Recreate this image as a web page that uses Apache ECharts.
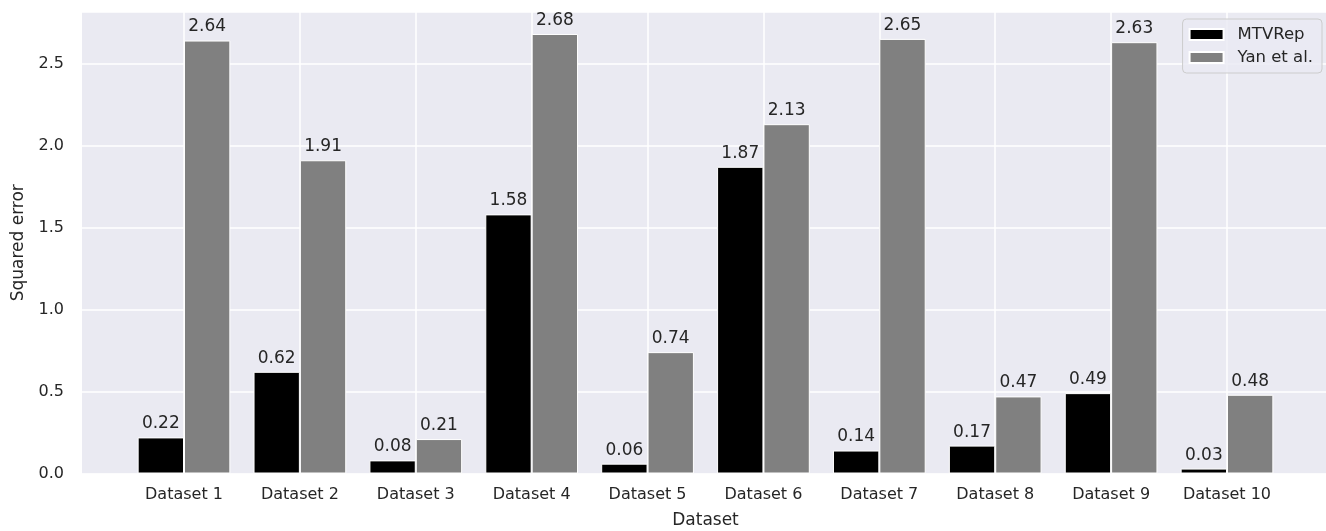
<!DOCTYPE html>
<html>
<head>
<meta charset="utf-8">
<script src="https://cdn.jsdelivr.net/npm/echarts@6/dist/echarts.min.js"></script>
<style>html,body{margin:0;padding:0;background:#fff}#c{width:1326px;height:531px}</style>
</head>
<body>
<div id="c"></div>
<script>
const categories = ['Dataset 1','Dataset 2','Dataset 3','Dataset 4','Dataset 5','Dataset 6','Dataset 7','Dataset 8','Dataset 9','Dataset 10'];
const mtvrep = [0.22, 0.62, 0.08, 1.58, 0.06, 1.87, 0.14, 0.17, 0.49, 0.03];
const yan = [2.64, 1.91, 0.21, 2.68, 0.74, 2.13, 2.65, 0.47, 2.63, 0.48];
const seriesNames = ['MTVRep', 'Yan et al.'];
const yMax = 2.814;

const FONT = 'DejaVu Sans';
const TXT = '#262626';
const chart = echarts.init(document.getElementById('c'), null, {renderer: 'canvas'});
const labelCfg = {
  show: true, position: 'top', distance: 5, color: TXT, fontFamily: FONT, fontSize: 17,
  formatter: p => p.value.toFixed(2)
};
chart.setOption({
  animation: false,
  backgroundColor: '#ffffff',
  textStyle: {fontFamily: FONT},
  grid: [
    {left: 82, right: 0, top: 12, bottom: 57.5, show: true, backgroundColor: '#eaeaf2', borderWidth: 0, outerBoundsMode: 'none', containLabel: false},
    {left: 184, right: 99, top: 12, bottom: 57.5, outerBoundsMode: 'none', containLabel: false}
  ],
  xAxis: [
    {gridIndex: 0, type: 'value', show: false, min: 0, max: 1},
    {gridIndex: 1, type: 'category', data: categories, boundaryGap: false,
     axisLine: {show: false}, axisTick: {show: false},
     axisLabel: {color: TXT, fontFamily: FONT, fontSize: 16, margin: 13, interval: 0},
     splitLine: {show: true, lineStyle: {color: '#ffffff', width: 1.5}},
     name: 'Dataset', nameLocation: 'middle', nameGap: 39,
     nameTextStyle: {color: TXT, fontFamily: FONT, fontSize: 17}}
  ],
  yAxis: [
    {gridIndex: 0, type: 'value', min: 0, max: yMax, interval: 0.5,
     axisLine: {show: false}, axisTick: {show: false},
     axisLabel: {color: TXT, fontFamily: FONT, fontSize: 16, margin: 18,
       formatter: v => v.toFixed(1), showMaxLabel: false},
     splitLine: {show: true, lineStyle: {color: '#ffffff', width: 1.5}},
     name: 'Squared error', nameLocation: 'middle', nameGap: 55,
     nameTextStyle: {color: TXT, fontFamily: FONT, fontSize: 17}},
    {gridIndex: 1, type: 'value', min: 0, max: yMax, show: false, splitLine: {show: false}}
  ],
  legend: {
    orient: 'vertical', right: 4, top: 19,
    data: seriesNames,
    itemWidth: 34, itemHeight: 11, itemGap: 6,
    padding: [7, 9, 7, 6],
    backgroundColor: 'rgba(234,234,242,0.8)', borderColor: '#cccccc', borderWidth: 1, borderRadius: 4,
    textStyle: {color: TXT, fontFamily: FONT, fontSize: 16.5, padding: [0, 0, 0, 9]},
    icon: 'rect'
  },
  series: [
    {name: seriesNames[0], type: 'bar', xAxisIndex: 1, yAxisIndex: 1, data: mtvrep,
     barWidth: '40%', barGap: '0%', clip: false,
     itemStyle: {color: '#000000', borderColor: '#ffffff', borderWidth: 1}, label: labelCfg},
    {name: seriesNames[1], type: 'bar', xAxisIndex: 1, yAxisIndex: 1, data: yan,
     barWidth: '40%', barGap: '0%', clip: false,
     itemStyle: {color: '#808080', borderColor: '#ffffff', borderWidth: 1}, label: labelCfg}
  ]
});
</script>
</body>
</html>
